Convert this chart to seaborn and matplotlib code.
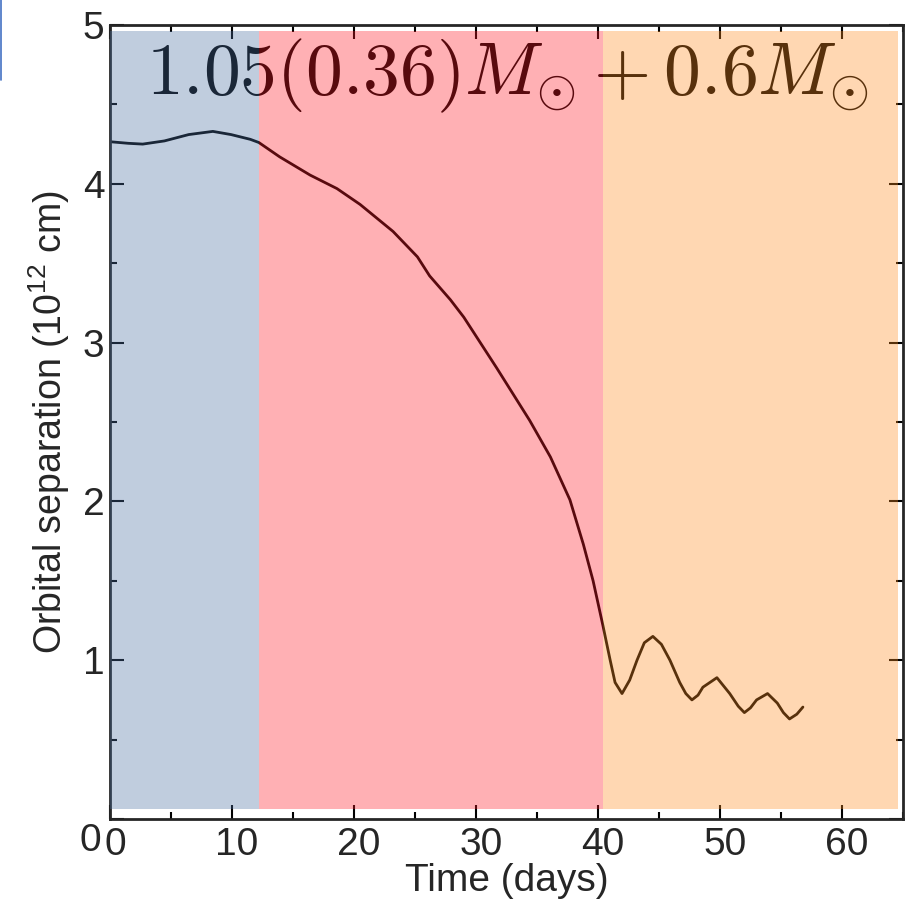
import matplotlib
matplotlib.use("Agg")
import matplotlib.pyplot as plt
import seaborn as sns
import pandas as pd
from matplotlib.ticker import MultipleLocator, FuncFormatter
from matplotlib.lines import Line2D
from matplotlib.transforms import ScaledTranslation

# Orbital separation vs time
time_days = [0, 1.49, 2.68, 4.46, 6.45, 8.43, 9.92, 11.5, 12.2, 13.9, 16.4,
             18.6, 20.5, 23.2, 25.2, 26.2, 27.9, 29.0, 31.7, 34.4, 36.1, 37.7,
             38.8, 39.6, 40.4, 41.0, 41.4, 41.97, 42.6, 43.2, 43.8, 44.5, 45.2,
             45.9, 46.7, 47.2, 47.7, 48.2, 48.6, 49.75, 50.8, 51.5, 52.0, 52.5,
             53.0, 53.9, 54.7, 55.2, 55.7, 56.3, 56.8]
separation = [4.265, 4.255, 4.25, 4.27, 4.31, 4.33, 4.31, 4.28, 4.26, 4.17,
              4.055, 3.97, 3.87, 3.70, 3.54, 3.42, 3.27, 3.16, 2.84, 2.51, 2.28,
              2.01, 1.73, 1.50, 1.22, 1.0, 0.86, 0.79, 0.875, 1.0, 1.11, 1.15,
              1.10, 1.0, 0.86, 0.79, 0.75, 0.78, 0.83, 0.89, 0.79, 0.71, 0.67,
              0.70, 0.75, 0.79, 0.73, 0.67, 0.63, 0.66, 0.705]

# phase boundaries (days) and colours
phase_edges = [0, 12.2, 40.4, 64.6]
phase_colors = ["#4b70a1", "#ff1d29", "#ff8d23"]

df = pd.DataFrame({"t": time_days, "a": separation})

sns.set_style("ticks")
plt.rcParams["font.family"] = ["Liberation Sans", "DejaVu Sans"]

fig = plt.figure(figsize=(9.13, 9.09), dpi=100)
ax = fig.add_axes([0.1205, 0.099, 0.8685, 0.8735])

sns.lineplot(data=df, x="t", y="a", color="black", linewidth=2.0, ax=ax, zorder=2)

ax.text(0.045, 0.912, r"$1.05(0.36)M_{\odot}+0.6M_{\odot}$", transform=ax.transAxes,
        fontsize=53, color="black", va="baseline", ha="left", zorder=2,
        math_fontfamily="cm")

# translucent phase shading drawn on top of everything
for i, c in enumerate(phase_colors):
    ax.axvspan(phase_edges[i], phase_edges[i + 1], ymin=0.0125, ymax=0.993,
               color=c, alpha=0.35, lw=0, zorder=5)

ax.set_xlim(0, 65)
ax.set_ylim(0, 5)
ax.xaxis.set_major_locator(MultipleLocator(10))
ax.xaxis.set_minor_locator(MultipleLocator(5))
ax.yaxis.set_major_locator(MultipleLocator(1))
ax.yaxis.set_minor_locator(MultipleLocator(0.5))
ax.yaxis.set_major_formatter(FuncFormatter(lambda v, p: "" if v == 0 else f"{v:g}"))
ax.tick_params(which="both", direction="in", top=True, right=True, width=1.5,
               labelsize=28, color="black")
ax.tick_params(which="major", length=10)
ax.tick_params(which="minor", length=5)
ax.tick_params(axis="x", pad=6)
ax.tick_params(axis="y", pad=4)
for s in ax.spines.values():
    s.set_linewidth(2)

# x tick labels sit a little right of their ticks in the original
shift = ScaledTranslation(5 / 100, 0, fig.dpi_scale_trans)
for lbl in ax.get_xticklabels():
    lbl.set_transform(lbl.get_transform() + shift)

# the y "0" sits level with the x tick labels in the original
ax.annotate("0", xy=(0, 0), xycoords="axes fraction", xytext=(-9, -22),
            textcoords="offset pixels", ha="right", va="center", fontsize=28)

ax.set_xlabel("Time (days)", fontsize=28, labelpad=0)
ax.set_ylabel("Orbital separation (10$^{\\mathregular{12}}$ cm)", fontsize=27,
              labelpad=8)

# thin blue edge from the original crop
fig.add_artist(Line2D([0.0012, 0.0012], [1.0, 0.912], color="#4472c4", lw=1.2))

fig.savefig("out.png", dpi=100)
